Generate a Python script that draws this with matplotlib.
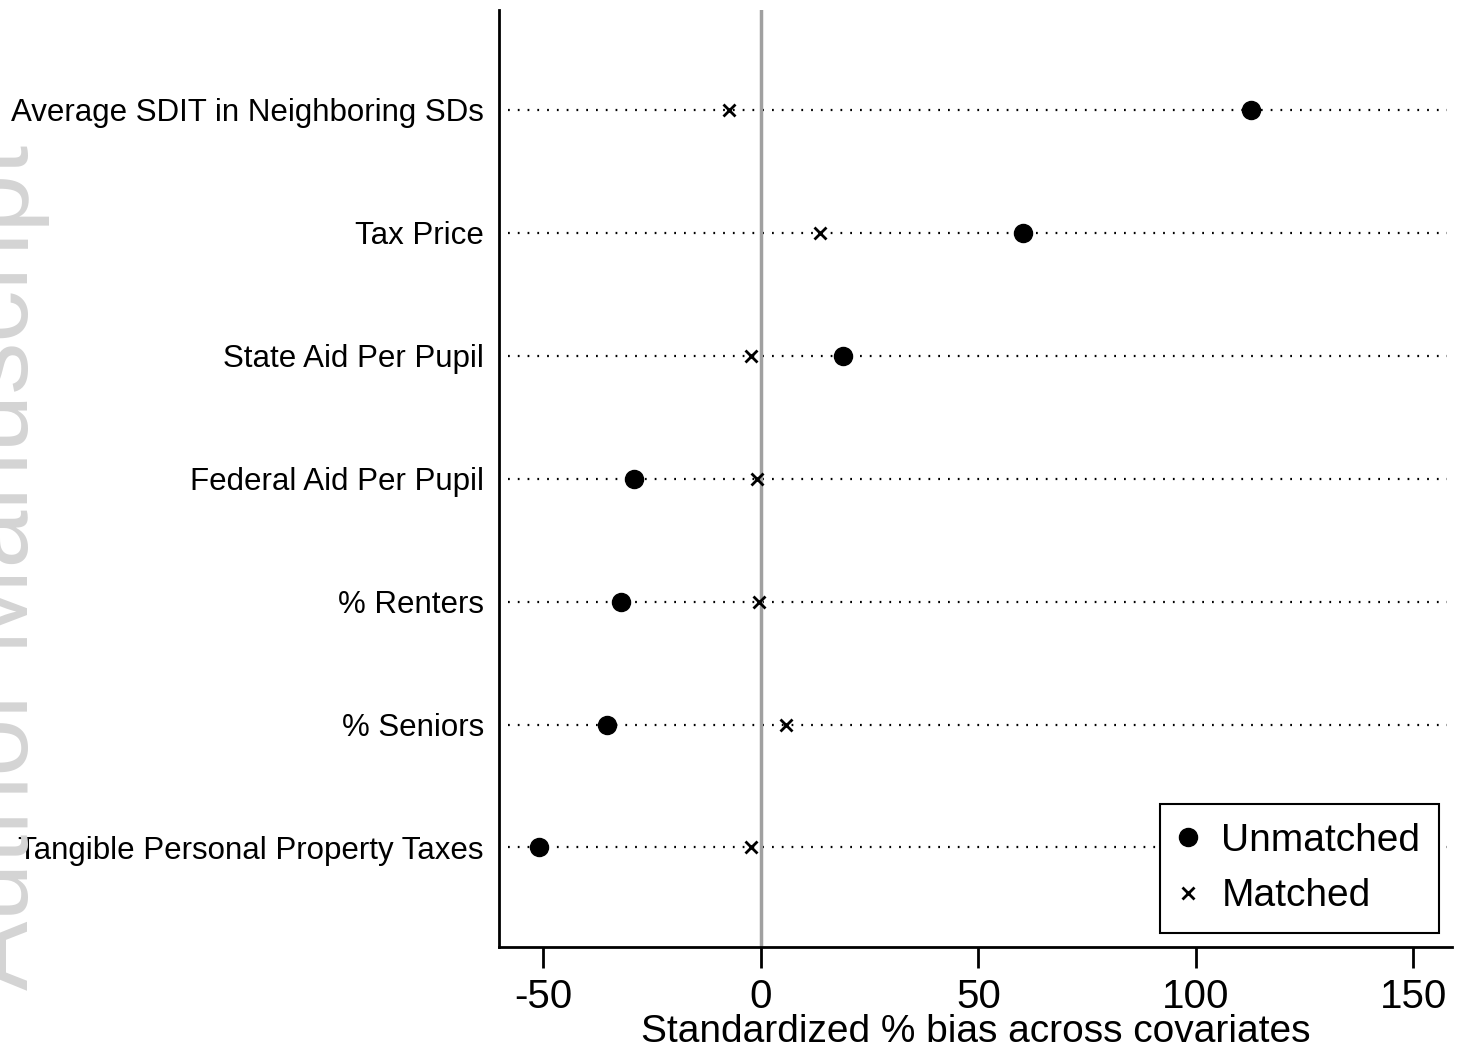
import numpy as np
import matplotlib.pyplot as plt

plt.rcParams['font.family'] = ['Liberation Sans', 'DejaVu Sans']

# covariates, top to bottom
COVARIATES = ["Average SDIT in Neighboring SDs", "Tax Price", "State Aid Per Pupil",
              "Federal Aid Per Pupil", "% Renters", "% Seniors",
              "Tangible Personal Property Taxes"]
UNMATCHED = [112.6, 60.2, 18.9, -29.2, -32.2, -35.4, -51.0]
MATCHED = [-7.4, 13.6, -2.3, -0.9, -0.5, 5.7, -2.3]
X_TICKS = [-50, 0, 50, 100, 150]

fig = plt.figure(figsize=(14.63, 10.56), dpi=100)
ax = fig.add_axes([0.3411, 0.1032, 0.6514, 0.8873])

pos = np.arange(1, len(COVARIATES) + 1)

# dotted guide lines
for p in pos:
    ax.plot([-58.2, 157.8], [p, p], color="black", lw=1.6,
            linestyle=(0, (0.8, 3.6)), zorder=1)

ax.axvline(0, color="#a0a0a0", lw=2.5, zorder=2)

ax.plot(UNMATCHED, pos, "o", color="black", ms=13, ls="none",
        label="Unmatched", zorder=3)
ax.plot(MATCHED, pos, "x", color="black", ms=9, mew=2, ls="none",
        label="Matched", zorder=3)

ax.set_xlim(-60.2, 158.9)
ax.set_ylim(7.81, 0.187)
ax.set_yticks(pos)
ax.set_yticklabels(COVARIATES, fontsize=22.5)
ax.tick_params(axis="y", length=0, pad=11)
ax.set_xticks(X_TICKS)
ax.set_xticklabels([str(t) for t in X_TICKS], fontsize=29)
ax.tick_params(axis="x", length=15, width=2, pad=7)
ax.set_xlabel("Standardized % bias across covariates", fontsize=28, labelpad=-1)

for s in ["top", "right"]:
    ax.spines[s].set_visible(False)
for s in ["left", "bottom"]:
    ax.spines[s].set_linewidth(2)

leg = ax.legend(loc="lower right", bbox_to_anchor=(0.9864, 0.015), fontsize=28,
                fancybox=False, framealpha=1, edgecolor="black",
                handletextpad=0.6, borderpad=0.48, labelspacing=0.5,
                handlelength=0.5, borderaxespad=0)
leg.get_frame().set_linewidth(1.5)

# faint watermark at the left edge
fig.text(0.019, 0.0625, "Author Manuscript", rotation=90, rotation_mode="anchor",
         ha="left", va="baseline", fontsize=75, color="#d4d4d4", zorder=0)

fig.savefig("out.png", dpi=100)
